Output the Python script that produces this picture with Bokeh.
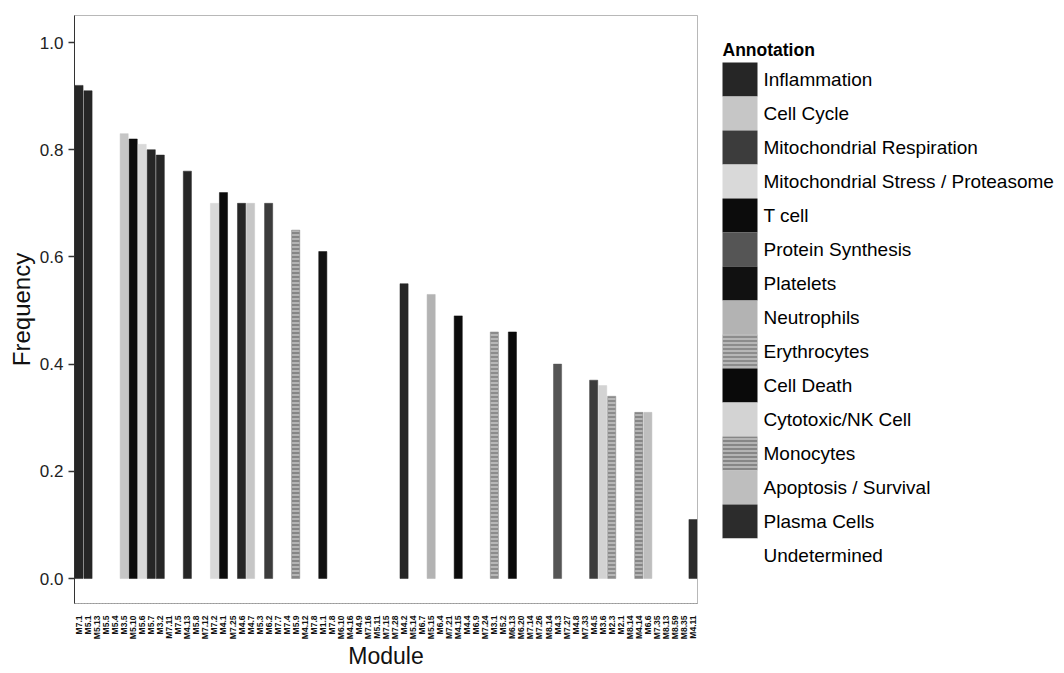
import math
from bokeh.plotting import figure
from bokeh.layouts import row
from bokeh.models import (ColumnDataSource, FixedTicker, Range1d)
from bokeh.core.properties import value
from bokeh.embed import file_html
from bokeh.resources import INLINE

# ---------------- data ----------------
modules = ["M7.1", "M5.1", "M5.13", "M5.5", "M5.4", "M3.5", "M5.10", "M5.6", "M5.7", "M3.2",
           "M7.11", "M7.5", "M4.13", "M5.8", "M7.12", "M7.2", "M4.1", "M7.25", "M4.6", "M4.7",
           "M5.3", "M6.2", "M7.7", "M7.4", "M5.9", "M4.12", "M7.8", "M1.1", "M7.8", "M6.10",
           "M4.16", "M4.9", "M7.16", "M5.11", "M7.15", "M7.28", "M4.2", "M5.14", "M6.7", "M5.15",
           "M6.4", "M7.21", "M4.15", "M4.4", "M6.9", "M7.24", "M3.1", "M5.2", "M6.13", "M6.20",
           "M7.14", "M7.26", "M8.14", "M4.3", "M7.27", "M4.8", "M7.33", "M4.5", "M3.6", "M2.3",
           "M2.1", "M8.14", "M4.14", "M6.6", "M7.35", "M8.13", "M8.59", "M8.35", "M4.11"]

frequency = [0.92, 0.91, 0, 0, 0, 0.83, 0.82, 0.81, 0.80, 0.79,
             0, 0, 0.76, 0, 0, 0.70, 0.72, 0, 0.70, 0.70,
             0, 0.70, 0, 0, 0.65, 0, 0, 0.61, 0, 0,
             0, 0, 0, 0, 0, 0, 0.55, 0, 0, 0.53,
             0, 0, 0.49, 0, 0, 0, 0.46, 0, 0.46, 0,
             0, 0, 0, 0.40, 0, 0, 0, 0.37, 0.36, 0.34,
             0, 0, 0.31, 0.31, 0, 0, 0, 0, 0.11]

annotation = ["Inflammation", "Inflammation", "Undetermined", "Undetermined", "Undetermined",
              "Cell Cycle", "T cell", "Mitochondrial Stress / Proteasome", "Inflammation", "Inflammation",
              "Undetermined", "Undetermined", "Inflammation", "Undetermined", "Undetermined",
              "Mitochondrial Stress / Proteasome", "T cell", "Undetermined", "Inflammation", "Cell Cycle",
              "Undetermined", "Mitochondrial Respiration", "Undetermined", "Undetermined", "Monocytes",
              "Undetermined", "Undetermined", "Platelets", "Undetermined", "Undetermined",
              "Undetermined", "Undetermined", "Undetermined", "Undetermined", "Undetermined",
              "Undetermined", "Inflammation", "Undetermined", "Undetermined", "Neutrophils",
              "Undetermined", "Undetermined", "T cell", "Undetermined", "Undetermined",
              "Undetermined", "Erythrocytes", "Undetermined", "Cell Death", "Undetermined",
              "Undetermined", "Undetermined", "Undetermined", "Protein Synthesis", "Undetermined",
              "Undetermined", "Undetermined", "Mitochondrial Respiration", "Cytotoxic/NK Cell", "Erythrocytes",
              "Undetermined", "Undetermined", "Monocytes", "Apoptosis / Survival", "Undetermined",
              "Undetermined", "Undetermined", "Undetermined", "Plasma Cells"]

categories = ["Inflammation", "Cell Cycle", "Mitochondrial Respiration",
              "Mitochondrial Stress / Proteasome", "T cell", "Protein Synthesis", "Platelets",
              "Neutrophils", "Erythrocytes", "Cell Death", "Cytotoxic/NK Cell", "Monocytes",
              "Apoptosis / Survival", "Plasma Cells", "Undetermined"]

category_colors = ["#262626", "#c6c6c6", "#3c3c3c", "#d9d9d9", "#0c0c0c", "#555555", "#111111",
                   "#b3b3b3", "#8c8c8c", "#0a0a0a", "#d3d3d3", "#868686", "#bebebe", "#2c2c2c",
                   "#ffffff"]

category_hatch = [" ", " ", " ", " ", " ", " ", " ",
                  " ", "horizontal_line", " ", " ", "horizontal_line", " ", " ", " "]

y_ticks = [0.0, 0.2, 0.4, 0.6, 0.8, 1.0]

# ---------------- main figure ----------------
FONT = "Liberation Sans"
p = figure(width=712, height=673, output_backend="svg", toolbar_location=None,
           x_range=Range1d(0.5, len(modules) + 0.5), y_range=Range1d(-0.0466, 1.0504),
           min_border_left=74, min_border_top=15, min_border_bottom=70, min_border_right=15)
p.xgrid.visible = False
p.ygrid.visible = False
p.outline_line_color = "#888888"
p.outline_line_width = 1
p.outline_line_alpha = 0.6
p.background_fill_color = "white"
p.border_fill_color = "white"

color_of = dict(zip(categories, category_colors))
hatch_of = dict(zip(categories, category_hatch))
xs = list(range(1, len(modules) + 1))
keep = [i for i in range(len(modules)) if frequency[i] > 0]
src = ColumnDataSource(dict(
    x=[xs[i] for i in keep],
    top=[frequency[i] for i in keep],
    module=[modules[i] for i in keep],
    annotation=[annotation[i] for i in keep],
    color=[color_of[annotation[i]] for i in keep],
    hatch=[hatch_of[annotation[i]] for i in keep],
))
p.vbar(x="x", top="top", bottom=0, width=0.9, source=src,
       fill_color="color", line_color="color", line_width=0.5,
       hatch_pattern="hatch", hatch_color="#d4d4d4", hatch_scale=4, hatch_weight=1.2)

# axes
p.yaxis.ticker = FixedTicker(ticks=y_ticks)
p.yaxis.major_label_overrides = {t: f"{t:.1f}" for t in y_ticks}
p.yaxis.major_label_text_font = FONT
p.yaxis.major_label_text_font_size = "17px"
p.yaxis.major_label_text_color = "#222222"
p.yaxis.major_tick_out = 6
p.yaxis.major_tick_in = 0
p.yaxis.major_label_standoff = 5
p.yaxis.minor_tick_line_color = None
p.yaxis.axis_line_color = "#333333"
p.yaxis.major_tick_line_color = "#333333"
p.yaxis.major_tick_line_width = 1.5
p.yaxis.axis_label = "Frequency"
p.yaxis.axis_label_text_font = FONT
p.yaxis.axis_label_text_font_style = "normal"
p.yaxis.axis_label_text_font_size = "24px"
p.yaxis.axis_label_text_color = "#111111"
p.yaxis.axis_label_standoff = 2

p.xaxis.ticker = FixedTicker(ticks=xs)
p.xaxis.major_label_overrides = {x: m for x, m in zip(xs, modules)}
p.xaxis.major_label_orientation = math.pi / 2
p.xaxis.major_label_text_font = FONT
p.xaxis.major_label_text_font_style = "bold"
p.xaxis.major_label_text_font_size = "8.5px"
p.xaxis.major_label_text_color = "#111111"
p.xaxis.major_tick_out = 2
p.xaxis.major_tick_in = 0
p.xaxis.major_tick_line_color = None
p.xaxis.minor_tick_line_color = None
p.xaxis.axis_line_color = "#999999"
p.xaxis.axis_line_dash = "2 1"
p.xaxis.major_label_standoff = 10
p.xaxis.axis_label = "Module"
p.xaxis.axis_label_text_font = FONT
p.xaxis.axis_label_text_font_style = "normal"
p.xaxis.axis_label_text_font_size = "23px"
p.xaxis.axis_label_text_color = "#111111"
p.xaxis.axis_label_standoff = 1

# ---------------- legend figure ----------------
lg = figure(width=352, height=673, output_backend="svg", toolbar_location=None,
            x_range=Range1d(0, 352), y_range=Range1d(15.41, -1.882),
            x_axis_type=None, y_axis_type=None,
            min_border_left=0, min_border_right=0, min_border_top=15, min_border_bottom=70,
            outline_line_color=None)
lg.grid.visible = False
lg.background_fill_color = "white"
lg.border_fill_color = "white"

idx = list(range(len(categories)))
lsrc = ColumnDataSource(dict(y=idx, label=categories, color=category_colors, hatch=category_hatch))
lg.rect(x=27.5, y="y", width=35, height=1, source=lsrc, fill_color="color", line_color=None,
        hatch_pattern="hatch", hatch_color="#d4d4d4", hatch_scale=4, hatch_weight=1.2)
lg.text(x=51, y="y", text="label", source=lsrc, text_font=value(FONT),
        text_font_size="19px", text_color="#000000", text_baseline="middle", text_align="left")
lg.text(x=[10], y=[-0.88], text=["Annotation"], text_font=value(FONT), text_font_style="bold",
        text_font_size="17.5px", text_color="#000000", text_baseline="middle", text_align="left")

layout = row(p, lg)
open("out.html", "w").write(file_html(layout, INLINE))
